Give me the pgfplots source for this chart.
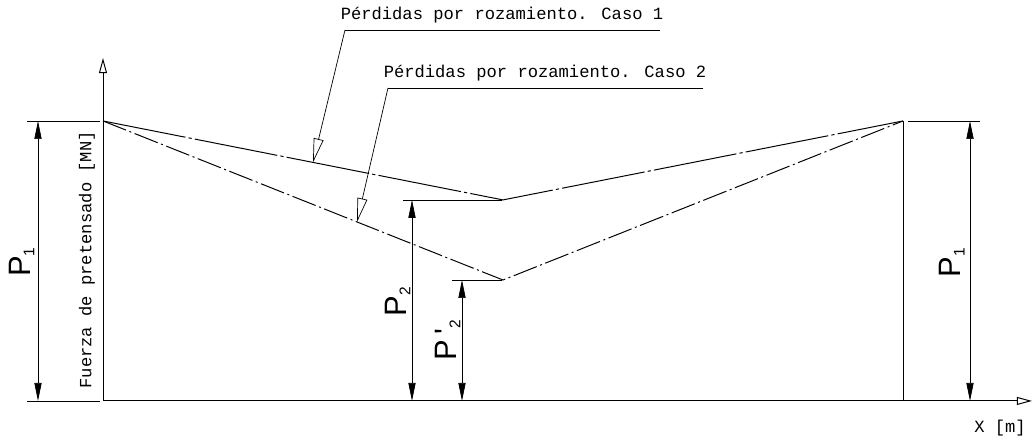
\documentclass[border=0pt]{standalone}
\usepackage{pgfplots}
\pgfplotsset{compat=1.18}
\usetikzlibrary{arrows.meta}
\usepackage{fontspec}
\setmainfont{Liberation Mono}
\newfontfamily\psans{Liberation Sans}

% P labels of the dimension lines (CAD style, rotated)
\newcommand{\Plab}[2]{{\psans\fontsize{22}{22}\selectfont P#1\raisebox{-0.12em}{\fontsize{11}{11}\selectfont #2}}}

\begin{document}
\begin{tikzpicture}[font=\fontsize{12.2}{13}\selectfont,
    dim/.style={line width=0.5pt, {Triangle[length=0.45cm,width=0.18cm]}-{Triangle[length=0.45cm,width=0.18cm]}},
    ext/.style={line width=0.5pt},
    lead/.style={line width=0.5pt, -{Triangle[open,length=0.6cm,width=0.25cm]}},
    axl/.style={line width=0.7pt, -{Triangle[open,length=0.38cm,width=0.2cm]}},
]
\begin{axis}[
    x=0.5cm, y=0.7cm,
    xmin=0, xmax=46.45, ymin=0, ymax=12.25,
    axis lines=none, ticks=none,
    clip=false,
]

% Case 1: losses by friction
\addplot[black, line width=0.7pt, dash pattern=on 2.1cm off 0.08cm on 0.08cm off 0.08cm]
    coordinates {(0,10) (20,7.18) (40,10)};
% Case 2
\addplot[black, line width=0.7pt, dash pattern=on 0.62cm off 0.09cm on 0.05cm off 0.09cm]
    coordinates {(0,10) (20,4.32) (40,10)};

% axes
\draw[axl] (axis cs:0,0) -- (axis cs:46.45,0);
\draw[axl] (axis cs:0,0) -- (axis cs:0,12.25);
\draw[line width=0.7pt] (axis cs:40,0) -- (axis cs:40,10);

\node at (axis cs:44.85,-0.96) {X [m]};
\node[rotate=90] at (axis cs:-0.8,5.04) {Fuerza de pretensado [MN]};

% left P1
\draw[ext] (axis cs:-3.8,10) -- (axis cs:-0.15,10);
\draw[ext] (axis cs:-3.8,0) -- (axis cs:-0.15,0);
\draw[dim] (axis cs:-3.25,10) -- (axis cs:-3.25,0);
\node[rotate=90] at (axis cs:-4.05,4.96) {\Plab{}{1}};

% right P1
\draw[ext] (axis cs:40.25,10) -- (axis cs:43.85,10);
\draw[dim] (axis cs:43.35,10) -- (axis cs:43.35,0);
\node[rotate=90] at (axis cs:42.45,4.93) {\Plab{}{1}};

% P2
\draw[ext] (axis cs:15,7.18) -- (axis cs:19.95,7.18);
\draw[dim] (axis cs:15.45,7.18) -- (axis cs:15.45,0);
\node[rotate=90] at (axis cs:14.75,3.54) {\Plab{}{2}};

% P'2
\draw[ext] (axis cs:17.45,4.32) -- (axis cs:19.95,4.32);
\draw[dim] (axis cs:17.95,4.32) -- (axis cs:17.95,0);
\node[rotate=90] at (axis cs:17.25,2.18) {\Plab{\,'}{2}};

% leaders
\draw[ext] (axis cs:27.85,13.25) -- (axis cs:12.1,13.25);
\draw[lead] (axis cs:12.1,13.25) -- (axis cs:10.5,8.52);
\node at (axis cs:19.95,13.79) {Pérdidas por rozamiento. Caso 1};

\draw[ext] (axis cs:30,11.18) -- (axis cs:14.25,11.18);
\draw[lead] (axis cs:14.25,11.18) -- (axis cs:12.7,6.39);
\node at (axis cs:22.1,11.71) {Pérdidas por rozamiento. Caso 2};

% page frame
\path (axis cs:-5.15,-1.357) rectangle (axis cs:46.5,14.32);
\end{axis}
\end{tikzpicture}
\end{document}
